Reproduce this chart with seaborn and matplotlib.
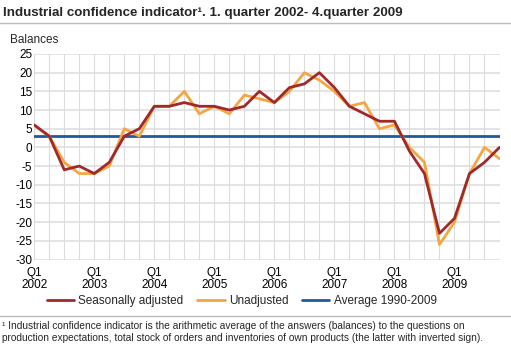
import matplotlib
matplotlib.use("Agg")
import matplotlib.pyplot as plt
import seaborn as sns
import pandas as pd
from matplotlib.lines import Line2D

quarters = [f"Q{q} {y}" for y in range(2002, 2010) for q in range(1, 5)]
seasonally_adjusted = [6, 3, -6, -5, -7, -4, 3, 5, 11, 11, 12, 11, 11, 10, 11, 15,
                       12, 16, 17, 20, 16, 11, 9, 7, 7, -1, -7, -23, -19, -7, -4, 0]
unadjusted = [6, 3, -4, -7, -7, -5, 5, 3, 11, 11, 15, 9, 11, 9, 14, 13,
              12, 15, 20, 18, 15, 11, 12, 5, 6, 0, -4, -26, -20, -7, 0, -3]
average_1990_2009 = [3] * 32
xtick_labels = [f"Q1\n{y}" for y in range(2002, 2010)]

sns.set_theme(style="white")
plt.rcParams['font.family'] = ['Liberation Sans', 'DejaVu Sans']

n = len(quarters)
df = pd.DataFrame({
    "idx": list(range(n)) * 3,
    "value": seasonally_adjusted + unadjusted + average_1990_2009,
    "series": ["Seasonally adjusted"] * n + ["Unadjusted"] * n + ["Average 1990-2009"] * n,
})
palette = {"Seasonally adjusted": "#a0292a", "Unadjusted": "#f5a541", "Average 1990-2009": "#1d5a9e"}

fig = plt.figure(figsize=(5.11, 3.46), dpi=100)
ax = fig.add_axes([0.067, 0.25, 0.9105, 0.594])
order = ["Average 1990-2009", "Unadjusted", "Seasonally adjusted"]
sns.lineplot(data=df, x="idx", y="value", hue="series", hue_order=order, palette=palette,
             linewidth=2, ax=ax, legend=False)

ax.set_xlim(0, n - 1)
ax.set_ylim(-30, 25)
ax.set_yticks(range(-30, 26, 5))
ax.set_yticklabels([str(v) for v in range(-30, 26, 5)], fontsize=8.5)
ax.set_xticks(range(0, n, 4))
ax.set_xticklabels(xtick_labels, fontsize=8.5, linespacing=0.95)
ax.set_xticks(range(n), minor=True)
ax.tick_params(axis="both", length=0, pad=1.5, colors="#000000")
ax.tick_params(axis="x", pad=5.5)
ax.grid(True, axis="y", color="#dcdcdc", linewidth=1.1)
ax.grid(True, axis="x", which="both", color="#dcdcdc", linewidth=0.8)
ax.set_axisbelow(True)
for s in ax.spines.values():
    s.set_visible(False)
ax.set_xlabel("")
ax.set_ylabel("")

fig.text(0.006, 0.962, "Industrial confidence indicator\u00b9. 1. quarter 2002- 4.quarter 2009",
         fontsize=9.6, fontweight="bold", va="center", ha="left")
fig.add_artist(Line2D([0, 1], [0.933, 0.933], color="#bbbbbb", linewidth=1, transform=fig.transFigure))
fig.text(0.02, 0.884, "Balances", fontsize=8.5, va="center", ha="left")

handles = [Line2D([], [], color=palette[k], linewidth=2) for k in ["Seasonally adjusted", "Unadjusted", "Average 1990-2009"]]
fig.legend(handles, ["Seasonally adjusted", "Unadjusted", "Average 1990-2009"], loc="center",
           bbox_to_anchor=(0.473, 0.13), ncol=3, frameon=False, fontsize=8.5,
           handlelength=2.3, handletextpad=0.35, columnspacing=1.2)

fig.add_artist(Line2D([0, 1], [0.087, 0.087], color="#bbbbbb", linewidth=1, transform=fig.transFigure))
fig.text(0.004, 0.04,
         "\u00b9 Industrial confidence indicator is the arithmetic average of the answers (balances) to the questions on\n"
         "production expectations, total stock of orders and inventories of own products (the latter with inverted sign).",
         fontsize=7.3, va="center", ha="left", linespacing=1.2)

fig.savefig("out.png", dpi=100)
